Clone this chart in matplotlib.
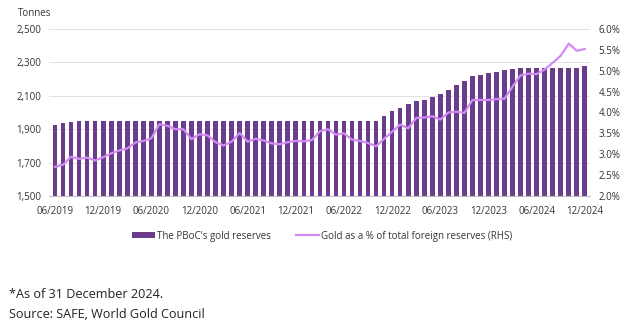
import matplotlib
matplotlib.use("Agg")
import matplotlib.pyplot as plt
from matplotlib.ticker import FuncFormatter

plt.rcParams['font.family'] = ['Open Sans', 'DejaVu Sans']

# Months 06/2019 .. 12/2024
months = []
for y in range(2019, 2025):
    for m in range(1, 13):
        if (y == 2019 and m < 6):
            continue
        months.append(f"{m:02d}/{y}")

# PBoC gold reserves (tonnes)
reserves = ([1926.0, 1936.0, 1942.0] + [1948.3] * 38 +
            [1980.4, 2010.4, 2025.3, 2049.6, 2067.7, 2076.1, 2092.0, 2113.1,
             2136.4, 2165.3, 2191.5, 2215.8, 2226.4, 2235.4, 2245.0, 2257.1,
             2262.4] + [2264.3] * 7 + [2269.3, 2279.6])

# Gold as % of total foreign reserves (RHS)
gold_pct = [2.70, 2.75, 2.94, 2.89, 2.92, 2.85, 2.93, 3.02, 3.09, 3.14,
            3.28, 3.32, 3.38, 3.72, 3.68, 3.60, 3.60, 3.36, 3.48, 3.45,
            3.29, 3.21, 3.30, 3.51, 3.30, 3.37, 3.33, 3.26, 3.24, 3.29,
            3.32, 3.31, 3.34, 3.55, 3.60, 3.47, 3.50, 3.35, 3.32, 3.27,
            3.19, 3.37, 3.54, 3.71, 3.62, 3.87, 3.88, 3.91, 3.83, 4.00,
            4.02, 3.99, 4.30, 4.30, 4.30, 4.32, 4.33, 4.62, 4.89, 4.93,
            4.92, 5.03, 5.19, 5.36, 5.65, 5.48, 5.52]

xtick_labels = ["06/2019", "12/2019", "06/2020", "12/2020", "06/2021", "12/2021",
                "06/2022", "12/2022", "06/2023", "12/2023", "06/2024", "12/2024"]
left_ticks = [1500, 1700, 1900, 2100, 2300, 2500]
right_ticks = [2.0, 2.5, 3.0, 3.5, 4.0, 4.5, 5.0, 5.5, 6.0]

BAR = '#6B3C8C'
LINE = '#D38AF5'
TXT = '#333333'

fig = plt.figure(figsize=(6.44, 3.30), dpi=100)
ax = fig.add_axes([49.4 / 644, (330 - 196) / 330, 541 / 644, (196 - 29) / 330])
x = list(range(len(months)))
bars = ax.bar(x, reserves, width=0.58, color=BAR, zorder=2,
              label="The PBoC's gold reserves")
ax.set_ylim(1500, 2500)
ax.set_xlim(-0.7, len(months) - 0.3)
ax.set_yticks(left_ticks)
ax.yaxis.set_major_formatter(FuncFormatter(lambda v, p: f"{v:,.0f}"))
ax.grid(axis='y', color='#DCDCDC', linewidth=0.6, zorder=0)
ax.set_axisbelow(True)
xt = [months.index(l) for l in xtick_labels]
ax.set_xticks(xt)
ax.set_xticklabels(xtick_labels)
for s in ['top', 'left', 'right']:
    ax.spines[s].set_visible(False)
ax.spines['bottom'].set_color('#BFBFBF')
ax.spines['bottom'].set_linewidth(0.8)
ax.tick_params(axis='both', length=0, labelsize=7, labelcolor=TXT)
ax.tick_params(axis='x', pad=7.5)
ax.tick_params(axis='y', pad=6)

ax2 = ax.twinx()
line, = ax2.plot(x, gold_pct, color=LINE, linewidth=1.6, zorder=3,
                 label="Gold as a % of total foreign reserves (RHS)")
ax2.set_ylim(2.0, 6.0)
ax2.set_yticks(right_ticks)
ax2.yaxis.set_major_formatter(FuncFormatter(lambda v, p: f"{v:.1f}%"))
for s in ['top', 'left', 'right', 'bottom']:
    ax2.spines[s].set_visible(False)
ax2.tick_params(axis='y', length=0, labelsize=7, labelcolor=TXT, pad=6)

fig.text(18 / 644, 1 - 14 / 330, "Tonnes", fontsize=7, color=TXT,
         ha='left', va='center')

fig.legend([bars, line], [bars.get_label(), line.get_label()],
           loc='center', bbox_to_anchor=(322 / 644, 1 - 236 / 330),
           ncol=2, frameon=False, fontsize=7, handlelength=2.4,
           handleheight=0.55, handletextpad=0.15, columnspacing=2.6,
           labelcolor=TXT)

fig.text(9 / 644, 1 - 294 / 330, "*As of 31 December 2024.", fontsize=9.1,
         color='#222222', ha='left', va='center')
fig.text(9 / 644, 1 - 315 / 330, "Source: SAFE, World Gold Council", fontsize=9.1,
         color='#222222', ha='left', va='center')

fig.savefig("out.png", dpi=100)
